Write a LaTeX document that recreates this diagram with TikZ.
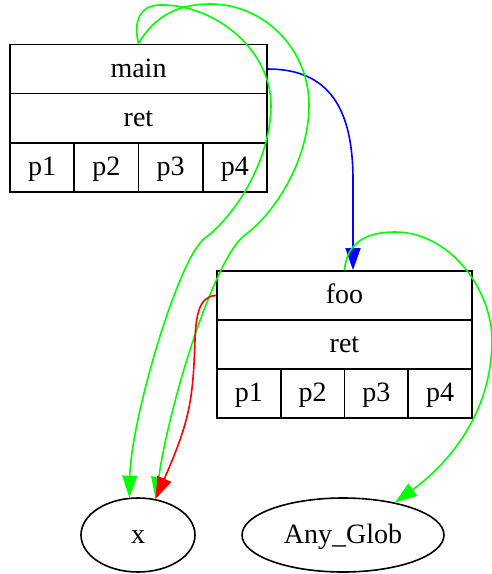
\documentclass[tikz,border=0pt]{standalone}
\usepackage{fontspec}
\setmainfont{Liberation Serif}
\usetikzlibrary{shapes.geometric,arrows.meta}
\tikzset{
  cellbox/.style={draw, rectangle, line width=1.6pt, inner sep=0pt,
    font=\fontsize{28}{31}\selectfont, text height=20pt, text depth=4pt},
  ellbox/.style={draw, ellipse, line width=1.6pt, inner sep=0pt,
    font=\fontsize{28}{31}\selectfont, text height=20pt, text depth=4pt},
  edge/.style={line width=1.6pt, -{Triangle[length=22pt,width=15pt]}},
}
\begin{document}
\begin{tikzpicture}[x=1pt,y=-1pt]
\useasboundingbox (0,0) rectangle (491,574);
% main record
\node[cellbox, minimum width=257pt, minimum height=49.3pt] (mainT) at (138.5,69) {main};
\node[cellbox, minimum width=257pt, minimum height=49.3pt] (mainR) at (138.5,118.3) {ret};
\node[cellbox, minimum width=64.25pt, minimum height=49.3pt] (mainP1) at (42.1,167.6) {p1};
\node[cellbox, minimum width=64.25pt, minimum height=49.3pt] (mainP2) at (106.4,167.6) {p2};
\node[cellbox, minimum width=64.25pt, minimum height=49.3pt] (mainP3) at (170.6,167.6) {p3};
\node[cellbox, minimum width=64.25pt, minimum height=49.3pt] (mainP4) at (234.9,167.6) {p4};
% foo record
\node[cellbox, minimum width=255pt, minimum height=49pt] (fooT) at (344.5,295.5) {foo};
\node[cellbox, minimum width=255pt, minimum height=49pt] (fooR) at (344.5,344.5) {ret};
\node[cellbox, minimum width=63.75pt, minimum height=49pt] (fooP1) at (248.9,393.5) {p1};
\node[cellbox, minimum width=63.75pt, minimum height=49pt] (fooP2) at (312.6,393.5) {p2};
\node[cellbox, minimum width=63.75pt, minimum height=49pt] (fooP3) at (376.4,393.5) {p3};
\node[cellbox, minimum width=63.75pt, minimum height=49pt] (fooP4) at (440.1,393.5) {p4};
% ellipses
\node[ellbox, minimum width=114pt, minimum height=74pt] (x) at (138,535) {x};
\node[ellbox, minimum width=202pt, minimum height=74pt] (AG) at (343,535) {Any\_Glob};
% edges
\draw[edge, blue] (mainT.east) .. controls (330,69) and (353,110) .. (353,180) -- (fooT.north -| 353,0);
\draw[edge, green] (mainT.north) .. controls (133,22) and (140,5) .. (160,5)
  .. controls (215,4) and (271,50) .. (271,105)
  .. controls (271,160) and (235,216) .. (205,238)
  .. controls (178,258) and (131,420) .. (x.103);
\draw[edge, green] (mainT.north) .. controls (155,15) and (180,4) .. (210,4)
  .. controls (265,4) and (309,50) .. (309,105)
  .. controls (309,160) and (275,213) .. (245,235)
  .. controls (215,257) and (170,400) .. (x.64);
\draw[edge, red] (fooT.west) .. controls (199,296) and (196,315) .. (195,340)
  .. controls (193,400) and (190,420) .. (x.64);
\draw[edge, green] (fooT.north) .. controls (347,240) and (370,232) .. (395,232)
  .. controls (450,232) and (492,290) .. (492,340)
  .. controls (492,420) and (440,470) .. (AG.32);
\end{tikzpicture}
\end{document}
